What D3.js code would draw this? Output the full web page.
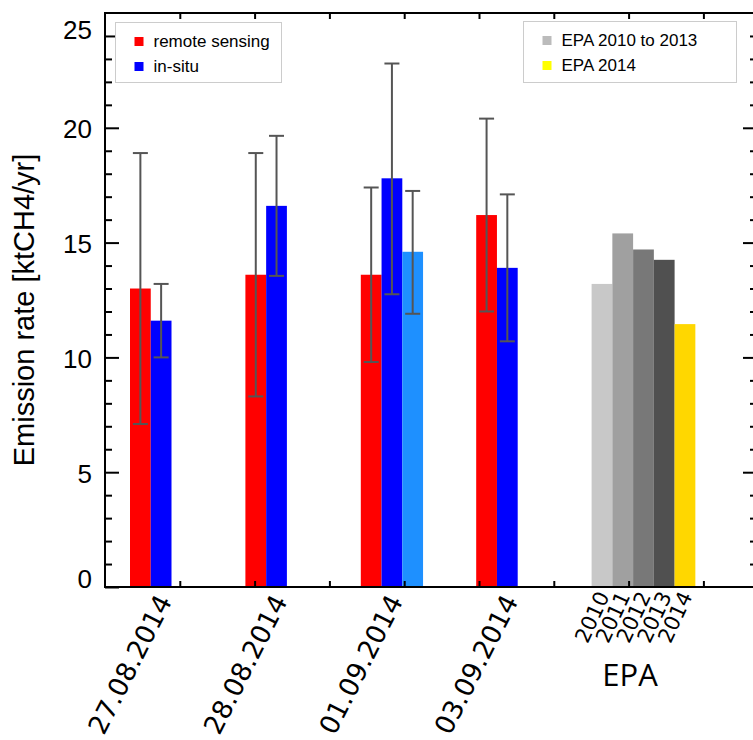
<!DOCTYPE html>
<html><head><meta charset="utf-8">
<script src="https://cdn.jsdelivr.net/npm/d3@7"></script>
<style>html,body{margin:0;padding:0;background:#fff;}</style>
</head><body>
<svg id="chart" width="753" height="740"></svg>
<script>
// ---- data ----
const dates = ["27.08.2014", "28.08.2014", "01.09.2014", "03.09.2014"];
const remoteValues = [13.0, 13.6, 13.6, 16.2];
const remoteLow    = [7.1, 8.3, 9.8, 12.0];
const remoteHigh   = [18.9, 18.9, 17.4, 20.4];
const insituValues = [11.6, 16.6, 17.8, 13.9];
const insituLow    = [10.0, 13.55, 12.75, 10.7];
const insituHigh   = [13.2, 19.65, 22.8, 17.1];
// additional in-situ estimate on 01.09.2014
const insitu2Date  = "01.09.2014";
const insitu2Value = 14.6;
const insitu2Low   = 11.9;
const insitu2High  = 17.25;
const epaYears  = ["2010", "2011", "2012", "2013", "2014"];
const epaValues = [13.2, 15.4, 14.7, 14.25, 11.45];
const epaColors = ["#c8c8c8", "#a0a0a0", "#787878", "#505050", "#ffd700"];
const yTickValues = [0, 5, 10, 15, 20, 24];
const yTickLabels = ["0", "5", "10", "15", "20", "25"];
const legend1 = [{label: "remote sensing", color: "#ff0000"}, {label: "in-situ", color: "#0000ff"}];
const legend2 = [{label: "EPA 2010 to 2013", color: "#bbbbbb"}, {label: "EPA 2014", color: "#ffff00"}];

// ---- layout ----
const svg = d3.select("#chart");
const L = 105, R = 757, T = 13, B = 587;
const y = d3.scaleLinear().domain([0, 25]).range([B, T]);
const xTick = d3.scaleLinear().domain([0, 1]).range([L, L + 74.8]);
const group = d3.scaleLinear().domain([0, 1]).range([130, 245.4]);
const bw = 20.75;
const barLeft = (g, j) => group(g) + j * bw;

const g = svg.append("g");

// bars data
const bars = [];
dates.forEach((d, i) => {
  bars.push({x: barLeft(i, 0), v: remoteValues[i], lo: remoteLow[i], hi: remoteHigh[i], c: "#ff0000"});
  bars.push({x: barLeft(i, 1), v: insituValues[i], lo: insituLow[i], hi: insituHigh[i], c: "#0000ff"});
  if (d === insitu2Date) bars.push({x: barLeft(i, 2), v: insitu2Value, lo: insitu2Low, hi: insitu2High, c: "#1e90ff"});
});
epaYears.forEach((yr, k) => bars.push({x: barLeft(4, k), v: epaValues[k], c: epaColors[k]}));

g.selectAll("rect.bar").data(bars).enter().append("rect")
  .attr("class", "bar")
  .attr("x", d => d.x).attr("width", bw)
  .attr("y", d => y(d.v)).attr("height", d => y(0) - y(d.v))
  .attr("fill", d => d.c);

// error bars
const eb = bars.filter(d => d.lo !== undefined);
const ec = "#555555";
g.selectAll("line.ev").data(eb).enter().append("line")
  .attr("x1", d => d.x + bw / 2).attr("x2", d => d.x + bw / 2)
  .attr("y1", d => y(d.lo)).attr("y2", d => y(d.hi))
  .attr("stroke", ec).attr("stroke-width", 2);
["lo", "hi"].forEach(k => {
  g.selectAll("line.cap" + k).data(eb).enter().append("line")
    .attr("x1", d => d.x + bw / 2 - 7.5).attr("x2", d => d.x + bw / 2 + 7.5)
    .attr("y1", d => y(d[k])).attr("y2", d => y(d[k]))
    .attr("stroke", ec).attr("stroke-width", 2);
});

// frame
const ax = svg.append("g").attr("stroke", "#000");
ax.append("rect").attr("x", L).attr("y", T).attr("width", R - L).attr("height", B - T)
  .attr("fill", "none").attr("stroke-width", 2);

// left axis
const majorSet = new Set(yTickValues);
const minorLeft = d3.range(1, 24).filter(v => !majorSet.has(v));
const leftAxis = d3.axisRight(y).tickValues(yTickValues).tickSize(14).tickFormat("");
const la = svg.append("g").attr("transform", `translate(${L},0)`).call(leftAxis);
la.select(".domain").remove();
la.selectAll(".tick line").attr("stroke-width", 2);
const laMinor = svg.append("g").attr("transform", `translate(${L},0)`)
  .call(d3.axisRight(y).tickValues(minorLeft).tickSize(7).tickFormat(""));
laMinor.select(".domain").remove();
laMinor.selectAll(".tick line").attr("stroke-width", 2);

// left tick labels
const labelShift = {0: -8, 24: -6};
svg.append("g").selectAll("text").data(yTickValues).enter().append("text")
  .attr("x", 92).attr("y", d => y(d) + (labelShift[d] || 1))
  .attr("dy", "0.36em")
  .attr("text-anchor", "end")
  .style("font-family", "'Liberation Sans', Arial, sans-serif")
  .style("font-size", "26px")
  .text((d, i) => yTickLabels[i]);

// right axis
const rMajor = [5, 10, 15, 20];
const rMinor = d3.range(1, 25).filter(v => !rMajor.includes(v));
const ra = svg.append("g").attr("transform", `translate(${R},0)`)
  .call(d3.axisLeft(y).tickValues(rMajor).tickSize(14).tickFormat(""));
ra.select(".domain").remove();
ra.selectAll(".tick line").attr("stroke-width", 2);
const raMinor = svg.append("g").attr("transform", `translate(${R},0)`)
  .call(d3.axisLeft(y).tickValues(rMinor).tickSize(7).tickFormat(""));
raMinor.select(".domain").remove();
raMinor.selectAll(".tick line").attr("stroke-width", 2);

// top & bottom ticks
const xt = d3.range(1, 9);
const ba = svg.append("g").attr("transform", `translate(0,${B})`)
  .call(d3.axisTop(xTick).tickValues(xt).tickSize(6).tickFormat(""));
ba.select(".domain").remove();
ba.selectAll(".tick line").attr("stroke-width", 2);
const ta = svg.append("g").attr("transform", `translate(0,${T})`)
  .call(d3.axisBottom(xTick).tickValues(xt).tickSize(6).tickFormat(""));
ta.select(".domain").remove();
ta.selectAll(".tick line").attr("stroke-width", 2);

// category labels
svg.append("g").selectAll("text").data(dates).enter().append("text")
  .attr("transform", (d, i) => `translate(${barLeft(i, 1) + 22},${B + 14}) rotate(-63)`)
  .attr("text-anchor", "end")
  .style("font-family", "'DejaVu Sans', sans-serif")
  .style("font-size", "26.5px")
  .text(d => d);

// EPA year labels
svg.append("g").selectAll("text").data(epaYears).enter().append("text")
  .attr("transform", (d, k) => `translate(${barLeft(4, k) + bw / 2 + 8},${B + 9}) rotate(-65)`)
  .attr("text-anchor", "end")
  .style("font-family", "'DejaVu Sans', sans-serif")
  .style("font-size", "21px")
  .text(d => d);

svg.append("text")
  .attr("x", barLeft(4, 2) - 3).attr("y", 686)
  .attr("text-anchor", "middle")
  .style("font-family", "'Open Sans', sans-serif")
  .style("font-size", "31px")
  .text("EPA");

// y title
svg.append("text")
  .attr("transform", `translate(33.5,310) rotate(-90)`)
  .attr("text-anchor", "middle")
  .style("font-family", "'Liberation Sans', Arial, sans-serif")
  .style("font-size", "29px")
  .text("Emission rate [ktCH4/yr]");

// legends
function legend(x, yTop, w, h, items) {
  const lg = svg.append("g");
  lg.append("rect").attr("x", x).attr("y", yTop).attr("width", w).attr("height", h)
    .attr("fill", "#fff").attr("stroke", "#cccccc").attr("stroke-width", 1);
  items.forEach((it, i) => {
    const cy = yTop + 19 + i * 25;
    lg.append("rect").attr("x", x + 19).attr("y", cy - 4.5).attr("width", 9).attr("height", 9).attr("fill", it.color);
    lg.append("text").attr("x", x + 38).attr("y", cy).attr("dy", "0.35em")
      .style("font-family", "'Liberation Sans', Arial, sans-serif")
      .style("font-size", "17px").text(it.label);
  });
}
legend(115.5, 22.5, 166, 60, legend1);
legend(523.5, 21.5, 213, 61, legend2);
</script>
</body></html>
